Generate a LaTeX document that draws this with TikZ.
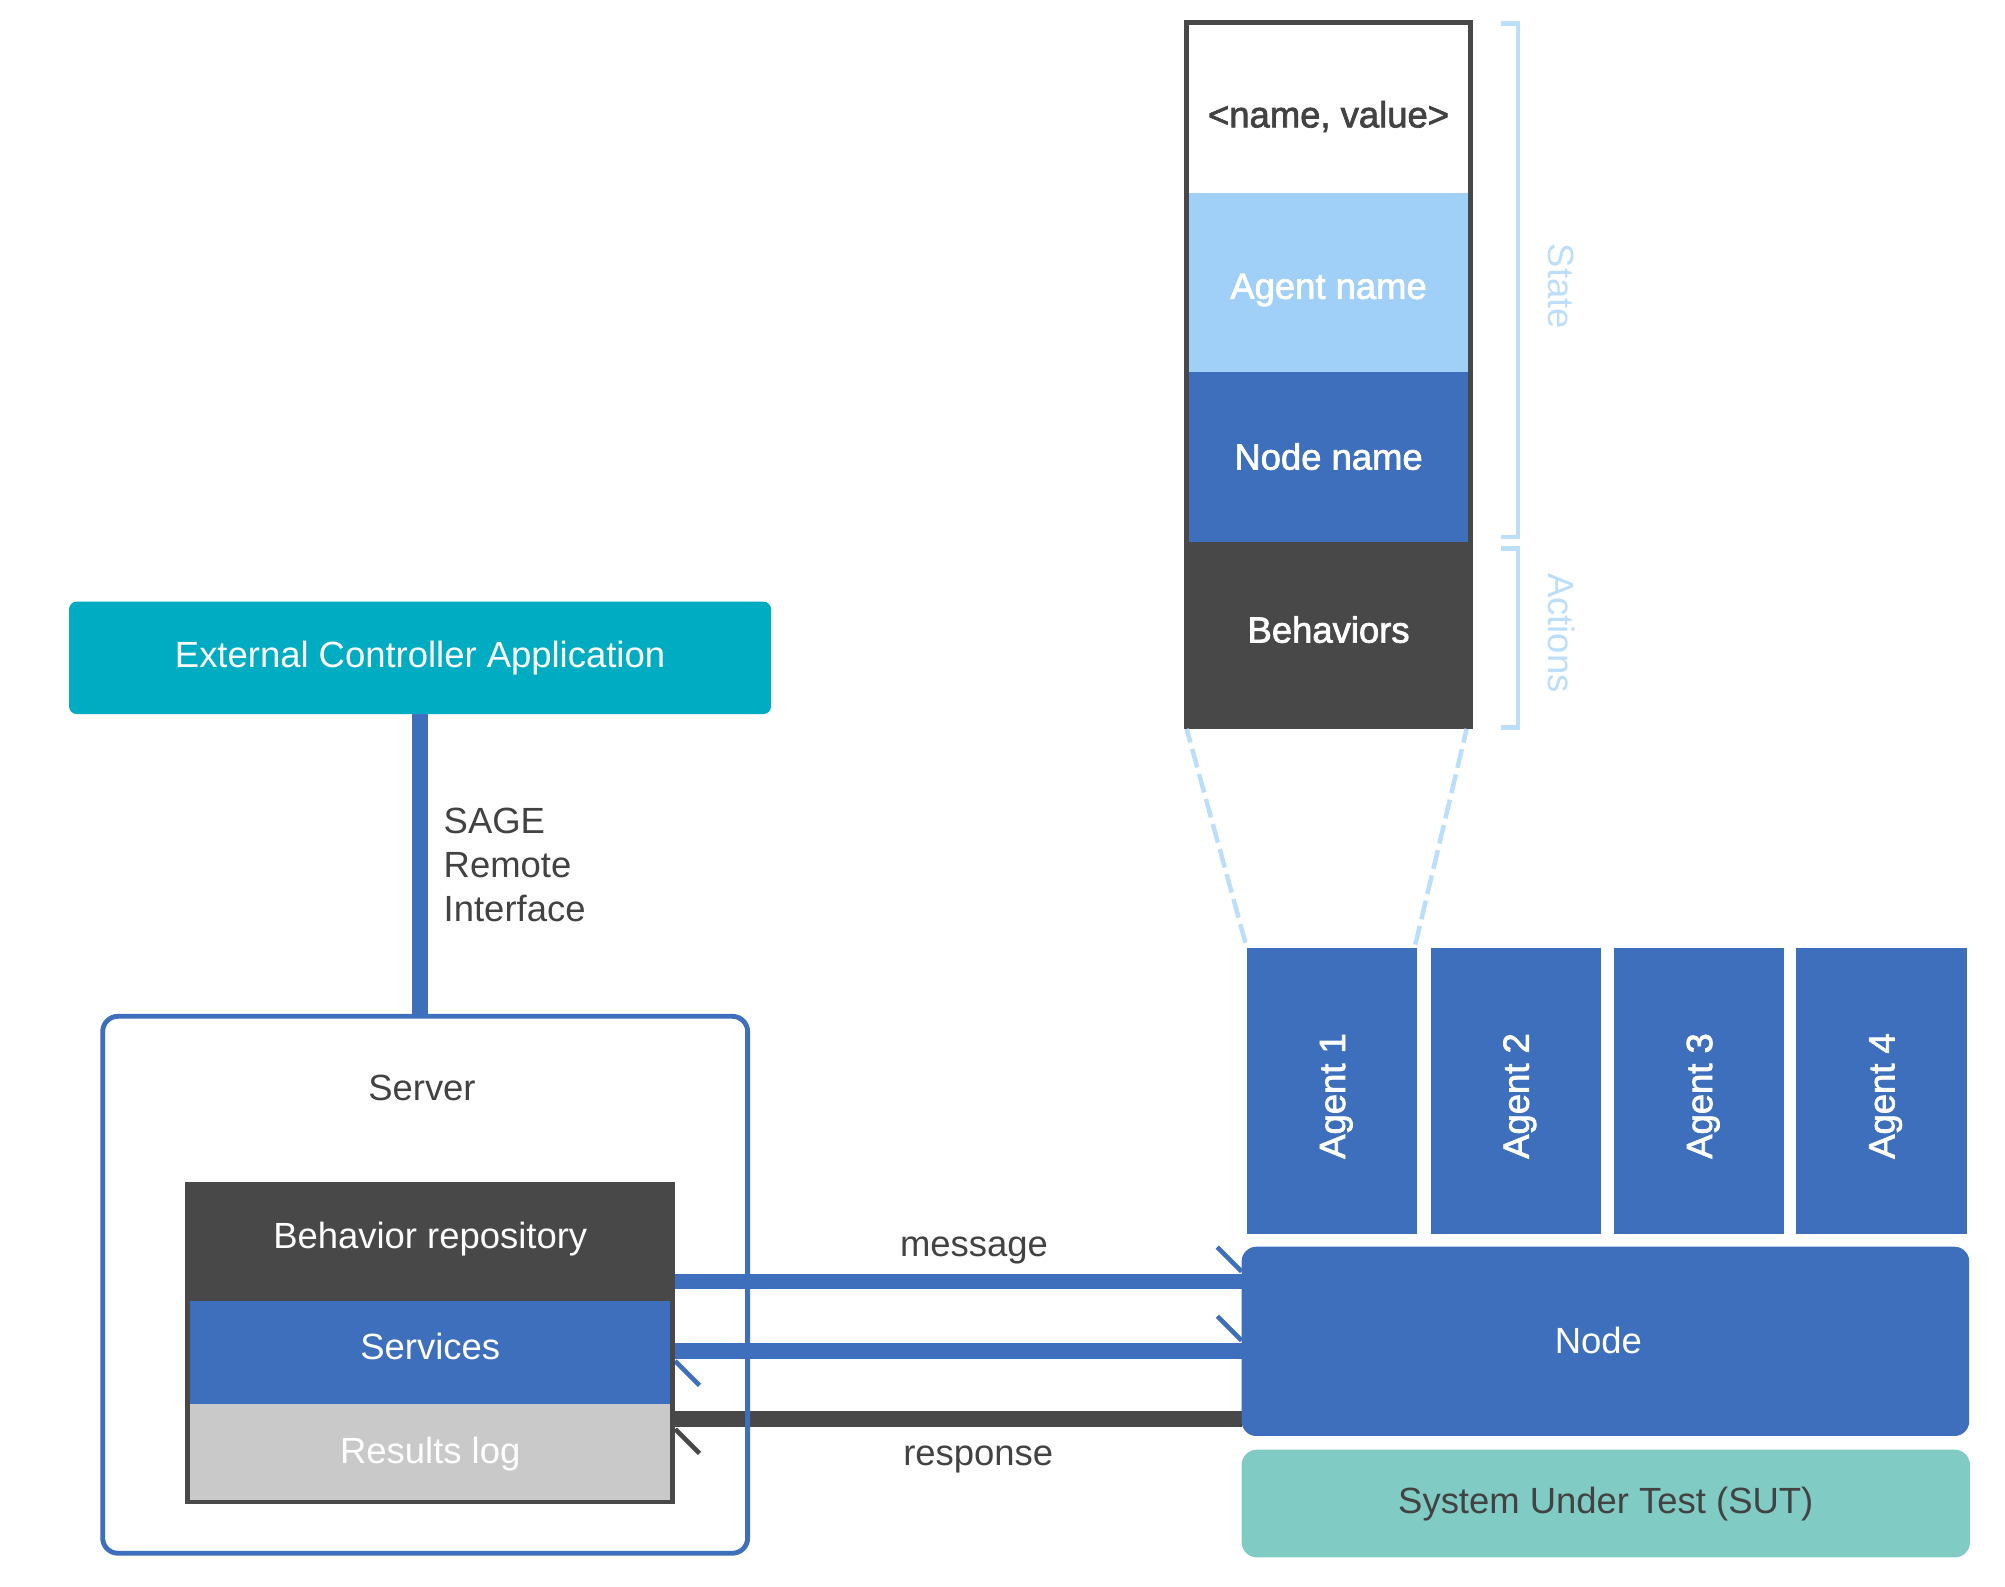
\documentclass[tikz,border=0pt]{standalone}
\usepackage{graphicx}
\usepackage{fontspec}
\setmainfont{Liberation Sans}
\newfontfamily\heavyfont[FakeBold=2]{Liberation Sans}
\usetikzlibrary{decorations.markings}

\definecolor{tealbox}{RGB}{0,172,193}
\definecolor{blueA}{RGB}{61,111,189}
\definecolor{darkA}{RGB}{72,72,72}
\definecolor{inkA}{RGB}{66,66,66}
\definecolor{skyA}{RGB}{160,207,248}
\definecolor{paleA}{RGB}{187,222,251}
\definecolor{greyA}{RGB}{201,201,201}
\definecolor{mintA}{RGB}{128,203,196}

\pgfdeclarelayer{back}
\pgfsetlayers{back,main}

% rotated agent caption, caps centred in the column
\newcommand{\agenttxt}[1]{\rotatebox{90}{\raisebox{0pt}[20.4pt][0pt]{#1}\hspace*{8pt}}}

\tikzset{
  txtbase/.style={inner sep=0pt, outer sep=0pt, font=\fontsize{28.5}{34.7}\selectfont},
  heavytxt/.style={font=\heavyfont\fontsize{28.5}{34.7}\selectfont},
  sect/.style={txtbase, rectangle, text height=20.4pt, text depth=0pt},
  conn/.style={line width=12pt},
  barbhead/.style={postaction={decorate, decoration={markings,
      mark=at position 1 with {\draw[line width=3.6pt, #1] (0,8) -- (-19,27);}}}},
  barbtail/.style={postaction={decorate, decoration={markings,
      mark=at position 0 with {\draw[line width=3.6pt, #1] (0,-8) -- (19,-27);}}}},
  guide/.style={paleA, line width=3.5pt, dash pattern=on 15pt off 5.3pt, dash phase=4pt},
  statebar/.style={paleA, line width=3.5pt},
}

\begin{document}
\begin{tikzpicture}[x=1pt, y=1pt]
\useasboundingbox (0,0) rectangle (1568,-1241);

% ---------- external controller ----------
\node[sect, fill=tealbox, text=white, rounded corners=6pt,
      minimum width=549pt, minimum height=87.9pt, text depth=5pt]
  (eca) at (328.5,-514.45) {External Controller Application};
% base anchor of a multi-line node sits on its last line
\node[txtbase, align=left, anchor=base west, text=inkA]
  (sri) at (347,-721) {SAGE\\Remote\\Interface};

% ---------- server ----------
\node[txtbase, draw=blueA, line width=3.8pt, rounded corners=12pt,
      minimum width=504.4pt, minimum height=419.9pt]
  (server) at (332.5,-1004.75) {};
\node[txtbase, anchor=base, text=inkA] (srvtxt) at (330,-861) {Server};

\node[txtbase, fill=darkA, minimum width=383pt, minimum height=252pt]
  (repo) at (336.5,-1050) {};
\node[sect, fill=darkA, text=white, minimum width=383pt, minimum height=93.6pt,
      text depth=9.4pt] (rephead) at (336.5,-970.8) {Behavior repository};
\node[sect, fill=blueA, text=white, minimum width=375.2pt, minimum height=80.4pt,
      text depth=9.2pt] (svc) at (336.5,-1057.8) {Services};
\node[sect, fill=greyA, text=white, minimum width=375.2pt, minimum height=74.8pt,
      text depth=2.8pt] (rlog) at (336.5,-1135.4) {Results log};

% ---------- agent record ----------
\node[txtbase, fill=darkA, minimum width=226pt, minimum height=554pt]
  (stack) at (1039,-293) {};
\node[sect, heavytxt, fill=white, text=inkA, minimum width=218.8pt,
      minimum height=131.2pt, text height=28.4pt] (nv) at (1039,-85.4) {<name, value>};
\node[sect, heavytxt, fill=skyA, text=white, minimum width=218.8pt,
      minimum height=139.6pt, text height=25.8pt] (aname) at (1039,-220.8) {Agent name};
\node[sect, heavytxt, fill=blueA, text=white, minimum width=218.8pt,
      minimum height=132.9pt] (nname) at (1039,-357.05) {Node name};
\node[sect, heavytxt, fill=darkA, text=white, minimum width=226pt,
      minimum height=146.5pt, text depth=8.8pt] (beh) at (1039,-496.75) {Behaviors};

\draw[statebar] (1174,-18.5) -- (1187,-18.5) -- (1187,-420) -- (1174,-420);
\draw[statebar] (1174,-429) -- (1187,-429) -- (1187,-569) -- (1174,-569);
\node[txtbase, rotate=-90, anchor=base, text=paleA] (statelbl) at (1211,-224) {State};
\node[txtbase, rotate=-90, anchor=base, text=paleA] (actlbl) at (1211,-495) {Actions};

% ---------- agents, node, system under test ----------
\foreach \i/\cx in {1/1041.65, 2/1185.35, 3/1328.7, 4/1471.3}
  \node[txtbase, heavytxt, fill=blueA, text=white, minimum width=133.3pt,
        minimum height=224.2pt] (a\i) at (\cx,-853.1) {\agenttxt{Agent \i}};

\node[sect, fill=blueA, text=white, rounded corners=11.5pt, minimum width=569pt,
      minimum height=148pt, text depth=2pt] (nodebox) at (1255.5,-1049) {Node\hspace*{11pt}};
\node[sect, fill=mintA, text=inkA, rounded corners=12pt, minimum width=569.6pt,
      minimum height=84.3pt, text depth=5pt] (sut) at (1255.8,-1175.85) {System Under Test (SUT)};

\draw[guide] ([xshift=2pt]stack.south west) -- (a1.north west);
\draw[guide] ([xshift=-5pt]stack.south east) -- ([xshift=-2pt]a1.north east);

% ---------- connectors (below the server frame) ----------
\begin{pgfonlayer}{back}
\draw[conn, blueA] (eca.south) -- (eca.south |- server.north);
\draw[conn, blueA, barbhead=blueA] (repo.east |- 0,-1002.3) --
  node[txtbase, anchor=base, text=inkA, pos=0.5275, yshift=19.6pt] (msglbl) {message}
  (nodebox.west |- 0,-1002.3);
\draw[conn, blueA, barbhead=blueA, barbtail=blueA]
  (nodebox.west |- 0,-1056.4) -- (repo.east |- 0,-1056.4);
\draw[conn, darkA, barbhead=darkA] (nodebox.west |- 0,-1109.6) --
  node[txtbase, anchor=base, text=inkA, pos=0.465, yshift=-36.1pt] (resplbl) {response}
  (repo.east |- 0,-1109.6);
\end{pgfonlayer}
\end{tikzpicture}
\end{document}
